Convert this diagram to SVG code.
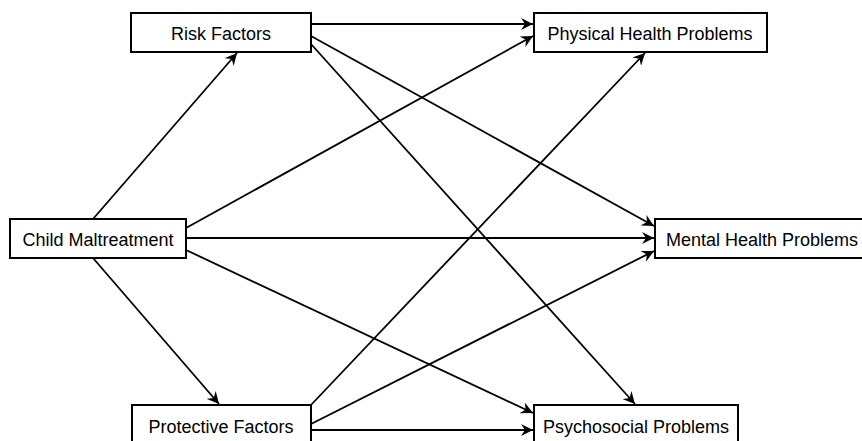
<svg xmlns="http://www.w3.org/2000/svg" width="862" height="441" viewBox="0 0 862 441">
<style>
.box{fill:#fff;stroke:#000;stroke-width:2}
.lbl{font-family:"Liberation Sans",Arial,sans-serif;font-size:18px;fill:#000;text-anchor:middle}
.edge{stroke:#000;stroke-width:1.8;fill:none;marker-end:url(#ah)}
</style>
<defs>
<marker id="ah" markerUnits="userSpaceOnUse" markerWidth="14" markerHeight="12" refX="12" refY="6" orient="auto">
<path d="M0,0 L12,6 L0,12 L4,6 z" fill="#000"/>
</marker>
</defs>
<rect width="862" height="441" fill="#fff"/>
<g id="connectors">
<line class="edge" x1="311" y1="24" x2="533" y2="24"/>
<line class="edge" x1="311" y1="36" x2="654" y2="226"/>
<line class="edge" x1="311" y1="44" x2="635" y2="404"/>
<line class="edge" x1="93" y1="219" x2="237" y2="53"/>
<line class="edge" x1="186" y1="228" x2="533" y2="36"/>
<line class="edge" x1="186" y1="238" x2="654" y2="238"/>
<line class="edge" x1="186" y1="250" x2="533" y2="413"/>
<line class="edge" x1="93" y1="258" x2="219" y2="404"/>
<line class="edge" x1="311" y1="405" x2="645" y2="53"/>
<line class="edge" x1="311" y1="424" x2="654" y2="251"/>
<line class="edge" x1="311" y1="430" x2="533" y2="430"/>
</g>
<g id="risk"><rect class="box" x="131" y="13" width="180" height="39"/><text class="lbl" x="221" y="39.5">Risk Factors</text></g>
<g id="physical"><rect class="box" x="534" y="13" width="233" height="39"/><text class="lbl" x="650" y="39.5">Physical Health Problems</text></g>
<g id="child"><rect class="box" x="10" y="219" width="176" height="39"/><text class="lbl" x="98" y="245.5">Child Maltreatment</text></g>
<g id="mental"><rect class="box" x="655" y="219" width="215" height="39"/><text class="lbl" x="762" y="245.5">Mental Health Problems</text></g>
<g id="protective"><rect class="box" x="132" y="405" width="179" height="42"/><text class="lbl" x="221" y="433">Protective Factors</text></g>
<g id="psychosocial"><rect class="box" x="534" y="405" width="204" height="42"/><text class="lbl" x="636" y="433">Psychosocial Problems</text></g>
</svg>
